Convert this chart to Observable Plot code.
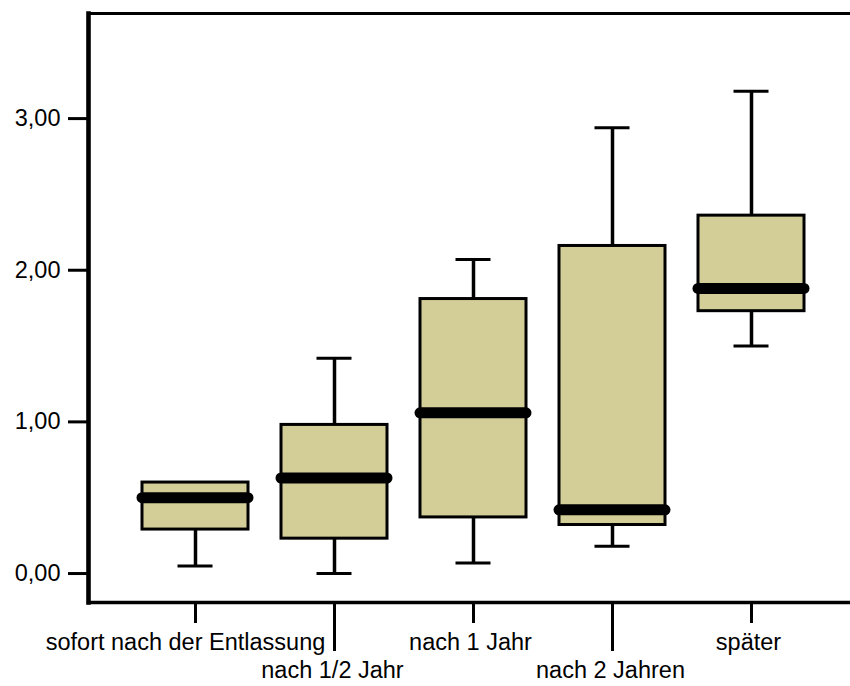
<!DOCTYPE html>
<html>
<head>
<meta charset="utf-8">
<script src="https://cdn.jsdelivr.net/npm/d3@7"></script>
<script src="https://cdn.jsdelivr.net/npm/@observablehq/plot@0.6"></script>
<style>
  html, body { margin: 0; padding: 0; background: #ffffff; }
  #chart svg { display: block; font-family: "Liberation Sans", Arial, sans-serif; }
</style>
</head>
<body>
<div id="chart"></div>
<script>
// ---- data ----
const categories = ["sofort nach der Entlassung", "nach 1/2 Jahr", "nach 1 Jahr", "nach 2 Jahren", "später"];
const lowWhisker  = [0.05, 0.00, 0.07, 0.18, 1.50];
const q1          = [0.29, 0.23, 0.37, 0.32, 1.73];
const median      = [0.50, 0.63, 1.06, 0.42, 1.88];
const q3          = [0.60, 0.98, 1.81, 2.16, 2.36];
const highWhisker = [0.60, 1.42, 2.07, 2.94, 3.18];
const yTicks = [0, 1, 2, 3];

const boxes = categories.map((c, i) => ({
  cat: c, low: lowWhisker[i], q1: q1[i], med: median[i], q3: q3[i], high: highWhisker[i], idx: i
}));

const fmt = d => d.toFixed(2).replace(".", ",");
const FS = 23.5;
const boxFill = "#d3ce98";

const chart = Plot.plot({
  width: 850,
  height: 686,
  marginLeft: 88,
  marginRight: 0,
  marginTop: 13,
  marginBottom: 84,
  style: { fontSize: FS + "px", fontFamily: "Liberation Sans, Arial, sans-serif", background: "#ffffff", overflow: "visible" },
  x: { domain: categories, range: [124.2, 822.2], paddingInner: 0.24, paddingOuter: 0.12, align: 0.5 },
  y: { domain: [-0.191, 3.693] },
  marks: [
    // frame lines
    Plot.frame({ anchor: "top", stroke: "#000", strokeWidth: 3 }),
    Plot.frame({ anchor: "bottom", stroke: "#000", strokeWidth: 3.3 }),
    Plot.frame({ anchor: "left", stroke: "#000", strokeWidth: 4.6 }),
    // y axis
    Plot.axisY({ ticks: yTicks, tickSize: 20, tickPadding: 8, tickFormat: fmt, strokeWidth: 3, fontSize: FS, label: null }),
    // x axis ticks (two lengths)
    Plot.axisX({ ticks: categories.filter((d, i) => i % 2 === 0), tickSize: 21, tickFormat: () => "", strokeWidth: 3, label: null }),
    Plot.axisX({ ticks: categories.filter((d, i) => i % 2 === 1), tickSize: 49, tickFormat: () => "", strokeWidth: 3, label: null }),
    // x labels
    Plot.text(boxes, { filter: d => d.idx === 0, x: "cat", text: "cat", frameAnchor: "bottom", lineAnchor: "top", dy: 31, dx: -10, fontSize: FS, fill: "#000" }),
    Plot.text(boxes, { filter: d => d.idx === 2 || d.idx === 4, x: "cat", text: "cat", frameAnchor: "bottom", lineAnchor: "top", dy: 31, dx: -3, fontSize: FS, fill: "#000" }),
    Plot.text(boxes, { filter: d => d.idx % 2 === 1, x: "cat", text: "cat", frameAnchor: "bottom", lineAnchor: "top", dy: 59, dx: -2, fontSize: FS, fill: "#000" }),
    // whiskers
    Plot.ruleX(boxes, { x: "cat", y1: "low", y2: "high", stroke: "#000", strokeWidth: 3.5 }),
    Plot.tickY(boxes, { x: "cat", y: "low", stroke: "#000", strokeWidth: 3, insetLeft: 35.5, insetRight: 35.5 }),
    Plot.tickY(boxes.filter(d => d.high > d.q3), { x: "cat", y: "high", stroke: "#000", strokeWidth: 3, insetLeft: 35.5, insetRight: 35.5 }),
    // boxes
    Plot.barY(boxes, { x: "cat", y1: "q1", y2: "q3", fill: boxFill, stroke: "#000", strokeWidth: 3 }),
    // medians
    Plot.tickY(boxes, { x: "cat", y: "med", stroke: "#000", strokeWidth: 11, strokeLinecap: "round" })
  ]
});

document.getElementById("chart").appendChild(chart);
</script>
</body>
</html>
